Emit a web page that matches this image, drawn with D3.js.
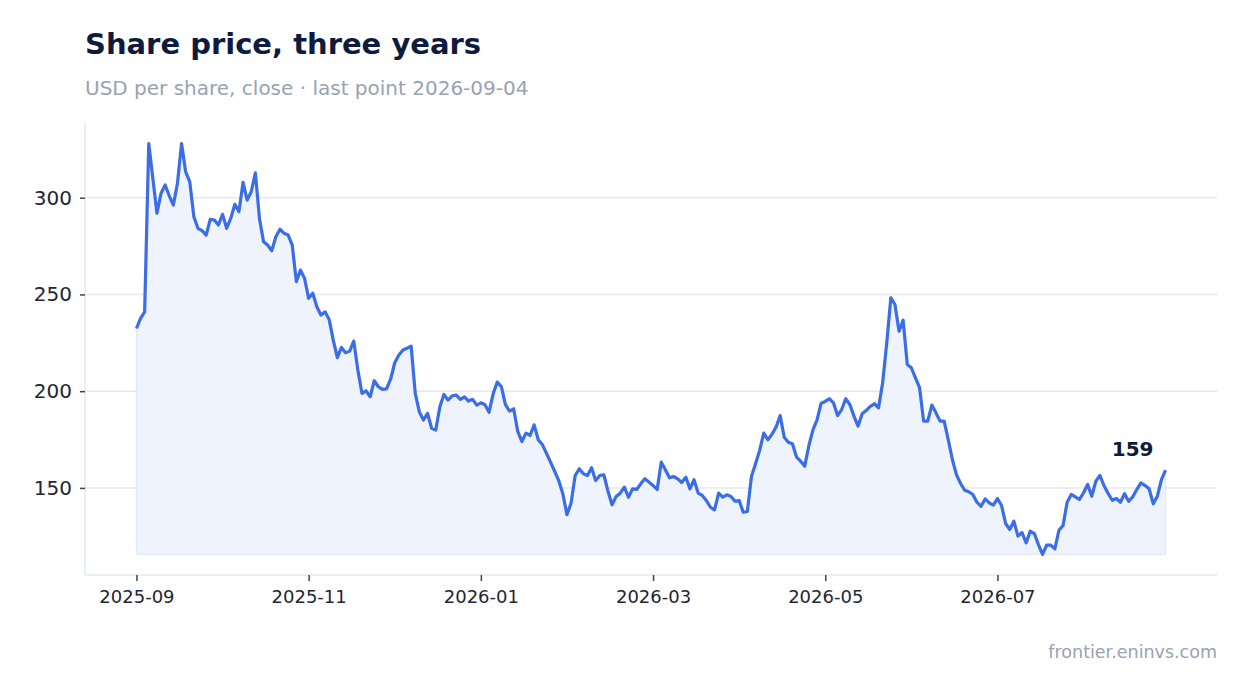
<!DOCTYPE html>
<html>
<head>
<meta charset="utf-8">
<script src="https://cdn.jsdelivr.net/npm/d3@7/dist/d3.min.js"></script>
<style>
  html, body { margin: 0; padding: 0; background: #ffffff; }
  svg { display: block; font-family: "DejaVu Sans", sans-serif; }
</style>
</head>
<body>
<svg id="chart" width="1247" height="693"></svg>
<script>
// ---- data ----
const tickLabels = ["2025-09", "2025-11", "2026-01", "2026-03", "2026-05", "2026-07"];
const tickIndex = [0, 42, 84, 126, 168, 210];
const yTickValues = [150, 200, 250, 300];
const closePrices = [
  232.4, 237.6, 241, 328, 310, 292, 302.3, 306.6, 301, 296.2,
  307.4, 328, 313.4, 308.3, 290.2, 284.2, 283, 280.7, 288.8, 288.5,
  285.9, 291.4, 284.2, 289.3, 296.6, 292.8, 308, 298.8, 303.1, 312.9,
  289.3, 277.2, 275.5, 272.6, 279.8, 283.7, 281.6, 280.7, 275.5, 256.6,
  262.6, 258.3, 248, 250.6, 243.6, 239.3, 241, 237.1,
  226.4, 217.3, 222.6, 219.9, 220.7, 225.9, 210.9, 198.9, 200.2, 197.1,
  205.4, 202.3, 200.9, 201.2, 206.3, 214.7, 218.7, 221.3, 222.2, 223.3,
  198.9, 189.3, 185.1, 188.5, 180.8, 179.9, 191.9, 198.3, 195.4, 197.6,
  198, 195.8, 197.1, 194.9, 195.8, 192.8, 194,
  193.0, 189.1, 198.6, 204.7, 202.4, 193.0, 189.7, 190.9, 179.2, 174.0,
  178.3, 177.1, 182.6, 174.9, 172.4, 167.9, 163.3, 158.6, 153.8, 146.9,
  136.2, 142.1, 156.4, 159.9, 157.3, 156.4, 160.4, 153.8, 156.4, 156.8,
  148.3, 141.3, 145.6, 147.3, 150.4, 145.2, 149.5, 149.2, 152.1, 154.7,
  153.0, 151.2, 149.2, 163.3, 159.4, 155.2, 155.9, 154.7, 152.8, 155.5,
  149.5, 154.2, 147.3, 146.1, 143.5, 140.0, 138.7, 147.3, 145.2, 146.4,
  145.6, 143.1, 143.5, 137.4, 137.8, 155.9, 162.5, 169.4, 178.3, 174.9,
  177.7, 181.4, 187.4, 176.2, 173.6, 172.8, 165.9, 163.8, 161.2, 171.9,
  180.0, 185.2, 193.8, 194.7, 196.1,
  194.0, 187.4, 190.5, 196.1, 193.1, 187.1, 181.9, 188.3, 190.0, 192.2,
  193.5, 191.4, 204.3, 225.0, 248.3, 244.8, 231.0, 236.7, 213.8, 212.1,
  206.9, 201.8, 184.5, 184.5, 192.8, 188.8, 184.5, 184.5, 175.0, 164.7,
  156.9, 152.3, 148.8, 148.0, 146.6, 142.6, 140.5, 144.3, 142.3, 141.1,
  144.5, 140.9, 131.6, 128.5, 132.8, 125.1, 126.9, 121.6, 127.6, 126.4,
  120.7, 115.6, 120.4, 120.4, 118.5, 128.1, 130.6, 142.6, 146.6, 145.4,
  144.0, 147.5, 151.8, 145.7, 153.5, 156.4, 151.1, 147.1, 143.6, 144.5,
  142.6, 147.0, 143.1, 145.4, 149.2, 152.6, 151.2, 149.5, 141.8, 145.7,
  154.3, 159.2
];

// ---- layout ----
const svg = d3.select("#chart");
const plot = { left: 85, right: 1217, top: 123, bottom: 575 };
const n = closePrices.length;
const xPad = (n - 1) * 0.05;
const x = d3.scaleLinear().domain([-xPad, (n - 1) + xPad]).range([plot.left, plot.right]);
const vMin = d3.min(closePrices), vMax = d3.max(closePrices);
const yPad = (vMax - vMin) * 0.05;
const y = d3.scaleLinear().domain([vMin - yPad, vMax + yPad]).range([plot.bottom, plot.top]);

const ink = "#0d1b3e";
const muted = "#98a2b3";
const grid = "#e4e8ef";
const blue = "#3a6de6";

// title
svg.append("text").attr("x", 85).attr("y", 54)
  .attr("font-size", 29).attr("font-weight", "bold").attr("fill", ink)
  .text("Share price, three years");
svg.append("text").attr("x", 85).attr("y", 95)
  .attr("font-size", 20).attr("fill", muted)
  .text("USD per share, close · last point 2026-09-04");

// gridlines
svg.append("g").selectAll("line").data(yTickValues).join("line")
  .attr("x1", plot.left).attr("x2", plot.right)
  .attr("y1", d => y(d)).attr("y2", d => y(d))
  .attr("stroke", grid).attr("stroke-width", 1.5);

// area
const area = d3.area().x((d, i) => x(i)).y0(y(vMin)).y1(d => y(d));
svg.append("path").datum(closePrices)
  .attr("d", area)
  .attr("fill", "#eef3fd")
  .attr("stroke", "rgba(58,109,230,0.10)").attr("stroke-width", 1.5);

// line
const line = d3.line().x((d, i) => x(i)).y(d => y(d));
svg.append("path").datum(closePrices)
  .attr("d", line)
  .attr("fill", "none").attr("stroke", blue)
  .attr("stroke-width", 3.2).attr("stroke-linejoin", "round");

// y axis
const yAxis = svg.append("g").attr("transform", `translate(${plot.left},0)`)
  .call(d3.axisLeft(y).tickValues(yTickValues).tickSize(5).tickPadding(8));
yAxis.select(".domain").attr("stroke", grid).attr("stroke-width", 1.5)
  .attr("d", `M0,${plot.top}V${plot.bottom}`);
yAxis.selectAll(".tick line").attr("stroke", "#3b4252").attr("stroke-width", 1.5);
yAxis.selectAll(".tick text").attr("font-size", 20).attr("fill", "#1f2533")
  .attr("font-family", "DejaVu Sans, sans-serif");

// x axis
const xAxis = svg.append("g").attr("transform", `translate(0,${plot.bottom})`)
  .call(d3.axisBottom(x).tickValues(tickIndex)
    .tickFormat((d, i) => tickLabels[i]).tickSize(6).tickPadding(9));
xAxis.select(".domain").attr("stroke", grid).attr("stroke-width", 1.5)
  .attr("d", `M${plot.left},0H${plot.right}`);
xAxis.selectAll(".tick line").attr("stroke", "#3b4252").attr("stroke-width", 1.5);
xAxis.selectAll(".tick text").attr("font-size", 18).attr("fill", "#1f2533")
  .attr("font-family", "DejaVu Sans, sans-serif");

// last value label
const last = closePrices[n - 1];
svg.append("text")
  .attr("x", x(n - 1) - 12).attr("y", y(last) - 14)
  .attr("text-anchor", "end")
  .attr("font-size", 20).attr("font-weight", "bold").attr("fill", ink)
  .text(Math.round(last));

// source
svg.append("text").attr("x", plot.right).attr("y", 658)
  .attr("text-anchor", "end").attr("font-size", 17.5).attr("fill", muted)
  .text("frontier.eninvs.com");
</script>
</body>
</html>
